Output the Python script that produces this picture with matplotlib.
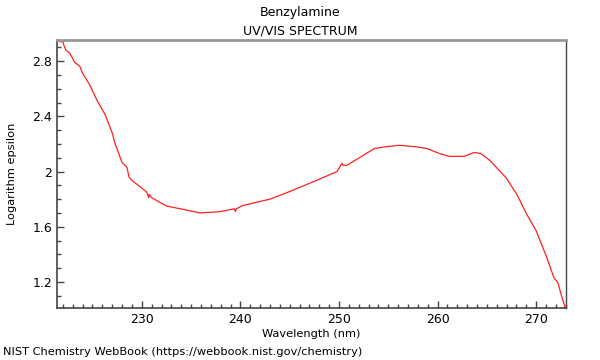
import matplotlib
matplotlib.use("Agg")
import matplotlib.pyplot as plt
from matplotlib.ticker import MultipleLocator

wavelength = [221.4, 221.8, 222.0, 222.1, 222.3, 222.7, 223.2, 223.7, 224.0, 224.7,
              225.5, 226.3, 227.0, 227.3, 228.0, 228.5, 228.7, 229.0, 230.0, 230.5,
              230.7, 230.75, 231.0, 232.5, 233.9, 235.9, 237.9, 239.4, 239.5, 239.6,
              240.2, 243.0, 245.0, 247.7, 249.8, 250.3, 250.4, 250.8, 253.6, 254.8,
              256.1, 257.7, 258.9, 260.2, 261.2, 262.7, 263.7, 264.4, 265.3, 267.0,
              268.1, 269.0, 270.0, 271.0, 271.8, 272.2, 272.5, 273.0]
log_eps = [2.945, 2.94, 2.94, 2.915, 2.88, 2.858, 2.79, 2.765, 2.71, 2.63,
           2.51, 2.41, 2.28, 2.20, 2.065, 2.03, 1.96, 1.935, 1.88, 1.85,
           1.81, 1.835, 1.81, 1.75, 1.73, 1.70, 1.709, 1.73, 1.71, 1.73,
           1.753, 1.80, 1.855, 1.935, 2.00, 2.06, 2.045, 2.045, 2.167, 2.18,
           2.19, 2.18, 2.167, 2.13, 2.11, 2.11, 2.138, 2.13, 2.08, 1.95,
           1.826, 1.695, 1.57, 1.39, 1.23, 1.195, 1.115, 1.0]

x_major = [230, 240, 250, 260, 270]
y_major = [1.2, 1.6, 2.0, 2.4, 2.8]
y_labels = ["1.2", "1.6", "2", "2.4", "2.8"]

fig = plt.figure(figsize=(6, 3.6), dpi=100)
ax = fig.add_axes([0.095, 0.1444, 0.848, 0.7445])
ax.plot(wavelength, log_eps, color="#ff2020", lw=0.9)
ax.set_xlim(221.4, 273.0)
ax.set_ylim(1.011, 2.953)

ax.set_xticks(x_major)
ax.set_yticks(y_major)
ax.set_yticklabels(y_labels)
ax.xaxis.set_minor_locator(MultipleLocator(1))
ax.yaxis.set_minor_locator(MultipleLocator(0.1))
ax.tick_params(which="both", direction="in", top=False, right=False,
               labelsize=9, colors="#444444", labelcolor="black")
ax.tick_params(which="major", length=5, width=1)
ax.tick_params(which="minor", length=3, width=1)

for side in ["left", "bottom", "right"]:
    ax.spines[side].set_color("#444444")
    ax.spines[side].set_linewidth(1.2)
ax.spines["right"].set_linewidth(1.0)
ax.spines["top"].set_color("#999999")
ax.spines["top"].set_linewidth(2)

ax.set_xlabel("Wavelength (nm)", fontsize=8.2, labelpad=2)
ax.set_ylabel("Logarithm epsilon", fontsize=8.2, labelpad=11)
fig.text(0.5, 0.964, "Benzylamine", ha="center", va="center", fontsize=9)
fig.text(0.5, 0.915, "UV/VIS SPECTRUM", ha="center", va="center", fontsize=9)
fig.text(0.005, 0.022, "NIST Chemistry WebBook (https://webbook.nist.gov/chemistry)",
         ha="left", va="center", fontsize=8.2)

fig.savefig("out.png", dpi=100)
